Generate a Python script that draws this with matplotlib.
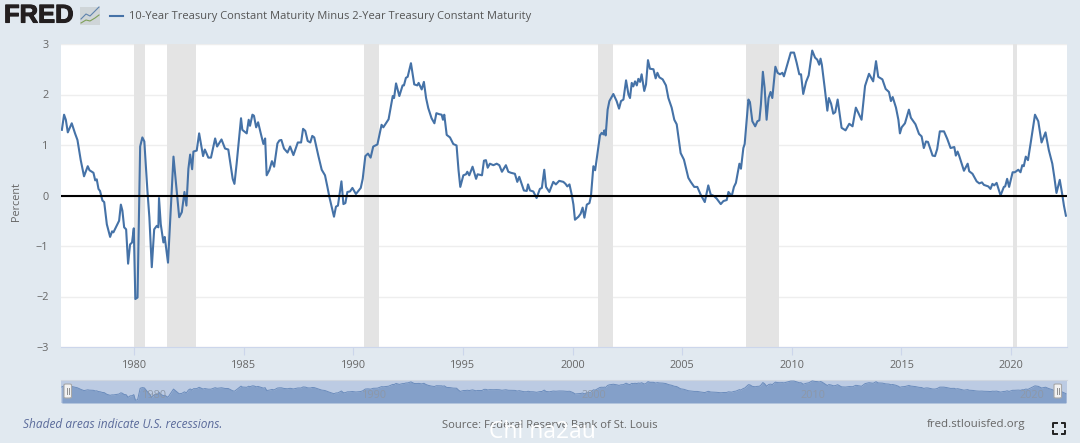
"""FRED chart: 10-year minus 2-year Treasury constant maturity spread."""

import matplotlib
matplotlib.use("Agg")
import matplotlib.pyplot as plt
import matplotlib.patheffects as pe
from matplotlib.lines import Line2D
from matplotlib.patches import FancyBboxPatch, Rectangle

plt.rcParams["font.family"] = ["Open Sans", "DejaVu Sans"]

# Values: decimal year, percent
YEARS = [
    1976.71, 1976.81, 1976.89, 1976.98, 1977.16, 1977.31, 1977.42, 1977.57, 1977.72, 1977.89,
    1977.97, 1978.15, 1978.23, 1978.30, 1978.38, 1978.45, 1978.56, 1978.64, 1978.76, 1978.91,
    1979.00, 1979.06, 1979.24, 1979.32, 1979.40, 1979.47, 1979.55, 1979.64, 1979.73, 1979.82,
    1979.91, 1979.99, 1980.06, 1980.16, 1980.28, 1980.38, 1980.47, 1980.61, 1980.70, 1980.81,
    1980.92, 1981.04, 1981.11, 1981.14, 1981.22, 1981.34, 1981.40, 1981.55, 1981.80, 1981.90,
    1982.06, 1982.18, 1982.30, 1982.39, 1982.48, 1982.56, 1982.65, 1982.71, 1982.86, 1982.97,
    1983.15, 1983.23, 1983.39, 1983.51, 1983.70, 1983.79, 1983.99, 1984.15, 1984.30, 1984.50,
    1984.58, 1984.68, 1984.88, 1984.94, 1985.14, 1985.23, 1985.29, 1985.40, 1985.47, 1985.57,
    1985.66, 1985.78, 1985.90, 1985.98, 1986.05, 1986.17, 1986.29, 1986.39, 1986.54, 1986.63,
    1986.72, 1986.84, 1987.00, 1987.12, 1987.27, 1987.47, 1987.62, 1987.71, 1987.81, 1987.92,
    1988.04, 1988.13, 1988.22, 1988.41, 1988.56, 1988.71, 1988.82, 1988.91, 1989.12, 1989.21,
    1989.30, 1989.46, 1989.55, 1989.64, 1989.73, 1989.85, 1989.96, 1990.12, 1990.34, 1990.43,
    1990.55, 1990.67, 1990.79, 1990.91, 1991.10, 1991.29, 1991.37, 1991.61, 1991.80, 1991.86,
    1991.95, 1992.10, 1992.25, 1992.31, 1992.40, 1992.48, 1992.63, 1992.78, 1992.92, 1992.98,
    1993.12, 1993.22, 1993.32, 1993.42, 1993.57, 1993.70, 1993.79, 1993.92, 1994.03, 1994.09,
    1994.15, 1994.26, 1994.41, 1994.56, 1994.71, 1994.80, 1994.88, 1995.02, 1995.14, 1995.20,
    1995.29, 1995.44, 1995.60, 1995.67, 1995.87, 1995.96, 1996.05, 1996.13, 1996.23, 1996.39,
    1996.54, 1996.66, 1996.78, 1996.96, 1997.07, 1997.19, 1997.37, 1997.48, 1997.57, 1997.78,
    1997.91, 1997.97, 1998.06, 1998.21, 1998.36, 1998.51, 1998.60, 1998.71, 1998.79, 1998.94,
    1999.12, 1999.24, 1999.39, 1999.58, 1999.68, 1999.76, 1999.86, 1999.96, 2000.04, 2000.11,
    2000.27, 2000.37, 2000.46, 2000.54, 2000.65, 2000.77, 2000.84, 2000.95, 2001.03, 2001.15,
    2001.25, 2001.33, 2001.41, 2001.45, 2001.51, 2001.60, 2001.68, 2001.86, 2002.01, 2002.12,
    2002.21, 2002.32, 2002.44, 2002.55, 2002.62, 2002.70, 2002.77, 2002.85, 2002.93, 2003.00,
    2003.08, 2003.15, 2003.27, 2003.35, 2003.44, 2003.53, 2003.69, 2003.79, 2003.87, 2003.96,
    2004.11, 2004.26, 2004.37, 2004.52, 2004.64, 2004.75, 2004.93, 2005.08, 2005.28, 2005.39,
    2005.55, 2005.69, 2005.84, 2006.03, 2006.19, 2006.30, 2006.45, 2006.57, 2006.76, 2006.88,
    2007.03, 2007.11, 2007.26, 2007.36, 2007.45, 2007.61, 2007.68, 2007.79, 2007.85, 2008.02,
    2008.09, 2008.20, 2008.33, 2008.43, 2008.52, 2008.59, 2008.68, 2008.76, 2008.85, 2008.94,
    2009.03, 2009.11, 2009.25, 2009.35, 2009.46, 2009.57, 2009.64, 2009.76, 2009.95, 2010.10,
    2010.22, 2010.34, 2010.42, 2010.52, 2010.65, 2010.77, 2010.93, 2011.06, 2011.16, 2011.25,
    2011.31, 2011.37, 2011.50, 2011.62, 2011.69, 2011.79, 2011.89, 2011.98, 2012.09, 2012.27,
    2012.45, 2012.62, 2012.77, 2012.92, 2013.18, 2013.34, 2013.52, 2013.71, 2013.84, 2013.94,
    2014.13, 2014.28, 2014.43, 2014.52, 2014.60, 2014.75, 2014.86, 2014.93, 2015.01, 2015.16,
    2015.34, 2015.43, 2015.64, 2015.80, 2015.92, 2016.02, 2016.12, 2016.21, 2016.42, 2016.53,
    2016.63, 2016.75, 2016.94, 2017.09, 2017.24, 2017.41, 2017.48, 2017.56, 2017.63, 2017.85,
    2018.02, 2018.09, 2018.24, 2018.43, 2018.55, 2018.67, 2018.76, 2018.96, 2019.06, 2019.15,
    2019.23, 2019.34, 2019.52, 2019.67, 2019.73, 2019.82, 2019.91, 2020.07, 2020.17, 2020.33,
    2020.43, 2020.51, 2020.58, 2020.67, 2020.77, 2020.89, 2021.09, 2021.24, 2021.39, 2021.57,
    2021.72, 2021.88, 2021.97, 2022.07, 2022.22, 2022.33, 2022.41, 2022.50,
]
SPREAD = [
    1.30, 1.60, 1.50, 1.25, 1.43, 1.23, 1.10, 0.70, 0.38, 0.58,
    0.50, 0.45, 0.30, 0.32, 0.13, 0.09, -0.10, -0.13, -0.57, -0.82,
    -0.71, -0.73, -0.57, -0.50, -0.18, -0.30, -0.63, -0.67, -1.35, -0.97,
    -0.93, -0.65, -2.05, -2.02, 0.97, 1.15, 1.07, 0.10, -0.43, -1.42,
    -0.67, -0.60, -0.63, -0.05, -0.57, -0.93, -0.82, -1.33, 0.77, 0.30,
    -0.43, -0.33, 0.07, -0.20, 0.53, 0.81, 0.52, 0.87, 0.89, 1.23,
    0.78, 0.91, 0.75, 0.75, 1.13, 0.97, 1.11, 0.93, 0.91, 0.33,
    0.23, 0.63, 1.53, 1.30, 1.23, 1.50, 1.38, 1.60, 1.58, 1.35,
    1.45, 1.23, 1.02, 1.13, 0.40, 0.50, 0.68, 0.57, 1.03, 1.09,
    1.10, 0.93, 0.85, 0.97, 0.80, 1.05, 1.05, 1.32, 1.28, 1.08,
    1.05, 1.18, 1.15, 0.78, 0.51, 0.40, 0.17, -0.03, -0.42, -0.22,
    -0.20, 0.28, -0.17, -0.15, 0.07, 0.08, 0.15, 0.03, 0.15, 0.33,
    0.78, 0.83, 0.75, 0.97, 1.01, 1.40, 1.35, 1.51, 1.97, 1.93,
    2.22, 1.97, 2.18, 2.18, 2.33, 2.35, 2.62, 2.20, 2.18, 2.23,
    2.10, 2.25, 1.93, 1.73, 1.53, 1.43, 1.63, 1.61, 1.60, 1.50,
    1.60, 1.20, 1.15, 1.02, 0.99, 0.50, 0.17, 0.40, 0.42, 0.47,
    0.40, 0.57, 0.33, 0.42, 0.40, 0.69, 0.70, 0.55, 0.63, 0.60,
    0.63, 0.60, 0.47, 0.60, 0.47, 0.45, 0.43, 0.27, 0.37, 0.10,
    0.09, 0.22, 0.10, 0.08, -0.05, 0.13, 0.15, 0.51, 0.17, 0.07,
    0.27, 0.22, 0.29, 0.27, 0.23, 0.18, 0.22, 0.02, -0.18, -0.48,
    -0.42, -0.36, -0.24, -0.44, -0.18, -0.15, -0.01, 0.58, 0.50, 0.88,
    1.19, 1.24, 1.21, 1.29, 1.19, 1.70, 1.87, 2.01, 1.87, 1.72,
    1.87, 1.90, 2.28, 2.00, 1.93, 2.23, 2.16, 2.26, 2.18, 2.31,
    2.25, 2.40, 2.07, 2.20, 2.68, 2.51, 2.50, 2.32, 2.43, 2.34,
    2.30, 2.18, 1.93, 1.74, 1.50, 1.41, 0.84, 0.71, 0.35, 0.27,
    0.17, 0.17, 0.02, -0.13, 0.20, 0.02, -0.01, -0.06, -0.17, -0.11,
    -0.09, 0.07, -0.01, 0.17, 0.25, 0.63, 0.53, 0.94, 1.02, 1.90,
    1.85, 1.47, 1.37, 1.47, 1.49, 1.80, 2.45, 2.13, 1.50, 1.93,
    2.05, 1.93, 2.55, 2.43, 2.40, 2.43, 2.36, 2.54, 2.83, 2.83,
    2.63, 2.40, 2.40, 2.01, 2.25, 2.38, 2.87, 2.73, 2.69, 2.59,
    2.71, 2.59, 2.13, 1.68, 1.93, 1.82, 1.62, 1.65, 1.90, 1.34,
    1.29, 1.42, 1.37, 1.74, 1.50, 2.17, 2.41, 2.26, 2.66, 2.35,
    2.30, 2.11, 2.05, 1.87, 1.95, 1.74, 1.50, 1.23, 1.35, 1.43,
    1.70, 1.54, 1.41, 1.22, 1.17, 0.94, 1.07, 1.06, 0.79, 0.78,
    0.92, 1.27, 1.27, 1.12, 0.94, 0.96, 0.79, 0.87, 0.79, 0.49,
    0.63, 0.48, 0.43, 0.28, 0.24, 0.26, 0.21, 0.18, 0.13, 0.23,
    0.20, 0.25, 0.00, 0.17, 0.18, 0.33, 0.17, 0.46, 0.46, 0.51,
    0.46, 0.60, 0.58, 0.77, 0.70, 1.03, 1.60, 1.47, 1.05, 1.25,
    0.90, 0.63, 0.37, 0.05, 0.31, 0.03, -0.20, -0.40,
]
RECESSION_START = [1980.0, 1981.5, 1990.5, 2001.17, 2007.92, 2020.08]
RECESSION_END = [1980.5, 1982.83, 1991.17, 2001.83, 2009.42, 2020.25]
X_TICKS = [1980, 1985, 1990, 1995, 2000, 2005, 2010, 2015, 2020]
Y_TICKS = [-3, -2, -1, 0, 1, 2, 3]
NAV_LABELS = [1980, 1990, 2000, 2010, 2020]

W, H = 1080, 443
BG = "#e1e9f0"
BLUE = "#4572a7"
GREY = "#666666"
XMIN, XMAX = 1976.67, 2022.55


def fx(px):
    return px / W


def fy(py):
    return 1 - py / H


def axes_at(left, top, right, bottom):
    return fig.add_axes([fx(left), fy(bottom), (right - left) / W, (bottom - top) / H])


def fig_text(px, py, s, **kw):
    kw.setdefault("color", GREY)
    kw.setdefault("va", "center")
    return fig.text(fx(px), fy(py), s, **kw)


fig = plt.figure(figsize=(W / 100, H / 100), dpi=100, facecolor=BG)

# --- Main panel ---
ax = axes_at(61, 44, 1067, 347)
for start, end in zip(RECESSION_START, RECESSION_END):
    ax.axvspan(start, end, color="#e4e4e4", lw=0, zorder=1)
ax.grid(True, axis="y", color="#eeeeee", lw=1.0, zorder=0)
ax.set_axisbelow(True)
ax.plot(YEARS, SPREAD, color=BLUE, lw=1.5, zorder=3, solid_joinstyle="round")
ax.axhline(0, color="black", lw=1.5, zorder=4)
ax.set_xlim(XMIN, XMAX)
ax.set_ylim(-3, 3)
ax.set_xticks(X_TICKS)
ax.set_yticks(Y_TICKS)
ax.tick_params(axis="x", length=6, color="#ccd6eb", labelsize=7.8, labelcolor=GREY, pad=3)
ax.tick_params(axis="y", length=0, labelsize=7.8, labelcolor=GREY, pad=9)
for side in ("top", "left", "right"):
    ax.spines[side].set_visible(False)
ax.spines["bottom"].set_color("#ccd6eb")
fig_text(16, 202, "Percent", rotation=90, ha="center", fontsize=7.8)

# --- Navigator ---
nav = axes_at(61, 380, 1067, 403)
nav.set_facecolor("#bccbe3")
nav.fill_between(YEARS, SPREAD, -2.8, color="#84a0c9", lw=0, zorder=2)
nav.plot(YEARS, SPREAD, color="#6b8cbc", lw=0.7, zorder=3)
for year in NAV_LABELS:
    nav.text(year + 0.95, -0.75, str(year), color="#8d98a8", fontsize=7.8,
             ha="center", va="center", zorder=4)
nav.set_xlim(XMIN, XMAX)
nav.set_ylim(-2.8, 3.1)
nav.set_xticks([])
nav.set_yticks([])
for spine in nav.spines.values():
    spine.set_visible(False)
nav.spines["top"].set_visible(True)
nav.spines["top"].set_color("#cfd6df")
for hx in (64, 1054):
    fig.add_artist(FancyBboxPatch((fx(hx), fy(398)), 7.5 / W, 14 / H,
                                  boxstyle="round,pad=0,rounding_size=0.002",
                                  fc="#f2f2f2", ec="#a8a8a8", lw=0.8,
                                  transform=fig.transFigure, zorder=6))
    for dx in (3, 5):
        fig.add_artist(Line2D([fx(hx + dx)] * 2, [fy(388), fy(394)],
                              color="#8f8f8f", lw=0.7, zorder=7))

# --- Header ---
logo = fig_text(4, 15.5, "FRED", color="#231f20", fontsize=18.4, fontweight="bold",
                family="Liberation Sans", ha="left")
logo.set_path_effects([pe.withStroke(linewidth=0.8, foreground="#231f20")])
fig.add_artist(Rectangle((fx(80), fy(25)), 20 / W, 18 / H, fc="#cfd5d8", ec="none",
                         transform=fig.transFigure))
fig.add_artist(Line2D([fx(81), fx(86), fx(90), fx(95), fx(99)],
                      [fy(19), fy(14), fy(16), fy(11), fy(7)], color="#5f83ad", lw=0.8))
fig.add_artist(Line2D([fx(81), fx(86), fx(90), fx(95), fx(99)],
                      [fy(23), fy(20), fy(21), fy(18), fy(15)], color="#7fa05a", lw=0.8))
fig.add_artist(Line2D([fx(110), fx(123)], [fy(16), fy(16)], color=BLUE, lw=1.5))
fig_text(129, 16, "10-Year Treasury Constant Maturity Minus 2-Year Treasury Constant Maturity",
         ha="left", fontsize=8.0, color="#555555")

# --- Footer ---
fig_text(23, 425, "Shaded areas indicate U.S. recessions.", ha="left", fontsize=8.6,
         style="italic", color="#5a6a9a")
fig_text(550, 425, "Source: Federal Reserve Bank of St. Louis", ha="center", fontsize=8.15)
fig_text(1025, 425, "fred.stlouisfed.org", ha="right", fontsize=8.25)
fig_text(542, 432, "Chi na2au", ha="center", color="white", fontsize=16.5)

# Fullscreen icon corners
for cx, cy, sx, sy in [(1053, 423, 1, 1), (1065, 423, -1, 1), (1053, 434, 1, -1), (1065, 434, -1, -1)]:
    fig.add_artist(Line2D([fx(cx), fx(cx), fx(cx + 3.5 * sx)],
                          [fy(cy + 3.5 * sy), fy(cy), fy(cy)], color="#222222", lw=1.4))

fig.savefig("out.png", dpi=100, facecolor=BG)
